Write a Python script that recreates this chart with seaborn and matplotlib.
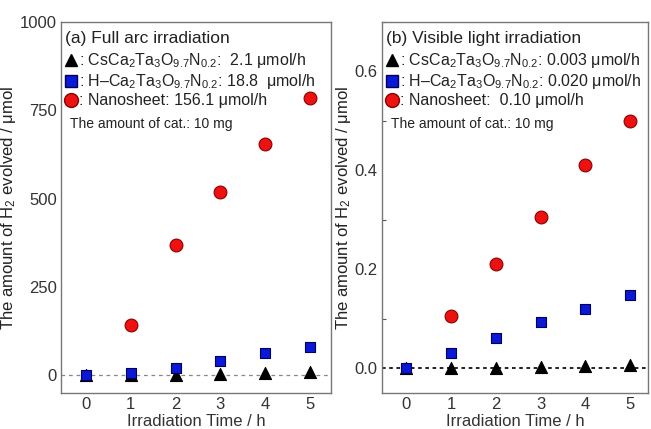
import numpy as np
import pandas as pd
import matplotlib
matplotlib.use("Agg")
import matplotlib.pyplot as plt
from matplotlib.lines import Line2D
from matplotlib.ticker import MultipleLocator
import seaborn as sns

# irradiation time (h)
time_h = [0, 1, 2, 3, 4, 5]

# (a) full arc irradiation, H2 evolved (umol)
full_cs = [0, 2, 2, 5, 8, 9]
full_h = [0, 8, 22, 42, 63, 80]
full_nano = [np.nan, 142, 370, 520, 655, 785]

# (b) visible light irradiation, H2 evolved (umol)
vis_cs = [0, 0.0, 0.001, 0.003, 0.005, 0.007]
vis_h = [0, 0.030, 0.062, 0.093, 0.120, 0.148]
vis_nano = [np.nan, 0.105, 0.210, 0.305, 0.410, 0.500]

samples = ["Nanosheet", "CsCa2Ta3O9.7N0.2", "H-Ca2Ta3O9.7N0.2"]
labels_a = [": CsCa$_2$Ta$_3$O$_{9.7}$N$_{0.2}$:  2.1 \u03bcmol/h",
            ": H\u2013Ca$_2$Ta$_3$O$_{9.7}$N$_{0.2}$: 18.8  \u03bcmol/h",
            ": Nanosheet: 156.1 \u03bcmol/h"]
labels_b = [": CsCa$_2$Ta$_3$O$_{9.7}$N$_{0.2}$: 0.003 \u03bcmol/h",
            ": H\u2013Ca$_2$Ta$_3$O$_{9.7}$N$_{0.2}$: 0.020 \u03bcmol/h",
            ": Nanosheet:  0.10 \u03bcmol/h"]

colors = {"Nanosheet": "#ee1111", "CsCa2Ta3O9.7N0.2": "#000000", "H-Ca2Ta3O9.7N0.2": "#0a18d8"}
edges = {"Nanosheet": "#8a0000", "CsCa2Ta3O9.7N0.2": "#000000", "H-Ca2Ta3O9.7N0.2": "#00005a"}
markers = {"Nanosheet": "o", "CsCa2Ta3O9.7N0.2": "^", "H-Ca2Ta3O9.7N0.2": "s"}
sizes = {"Nanosheet": 85, "CsCa2Ta3O9.7N0.2": 75, "H-Ca2Ta3O9.7N0.2": 62}


def make_df(cs, h, nano):
    df = pd.DataFrame({"time": time_h * 3,
                       "value": list(nano) + list(cs) + list(h),
                       "sample": [samples[0]] * 6 + [samples[1]] * 6 + [samples[2]] * 6})
    return df


sns.set_style("white")
plt.rcParams["font.family"] = ["Liberation Sans", "DejaVu Sans"]
plt.rcParams["mathtext.fontset"] = "custom"
plt.rcParams["mathtext.rm"] = "Liberation Sans"
plt.rcParams["mathtext.it"] = "Liberation Sans"

fig = plt.figure(figsize=(6.51, 4.29), dpi=100)
axA = fig.add_axes([0.0937, 0.0839, 0.4147, 0.8648])
axB = fig.add_axes([0.5868, 0.0839, 0.4086, 0.8648])

panels = [
    (axA, make_df(full_cs, full_h, full_nano), (-0.56, 5.47), (-50, 1000), 250, None,
     "(a) Full arc irradiation", labels_a, "#888888", 0.9, (0, (3, 3))),
    (axB, make_df(vis_cs, vis_h, vis_nano), (-0.54, 5.4), (-0.05, 0.70), 0.2, 0.1,
     "(b) Visible light irradiation", labels_b, "#111111", 1.3, (0, (2, 2))),
]

for ax, df, xl, yl, major, minor, title, labels, zc, zlw, zls in panels:
    ax.axhline(0, color=zc, lw=zlw, ls=zls, zorder=1)
    for s in samples:
        sub = df[df["sample"] == s]
        sns.scatterplot(data=sub, x="time", y="value", ax=ax, marker=markers[s],
                        color=colors[s], edgecolor=edges[s], linewidth=0.8,
                        s=sizes[s], legend=False, zorder=3)
    ax.set_xlim(*xl)
    ax.set_ylim(*yl)
    ax.set_xticks(time_h)
    ax.yaxis.set_major_locator(MultipleLocator(major))
    if minor:
        ax.yaxis.set_minor_locator(MultipleLocator(minor))
    ax.tick_params(axis="x", direction="in", length=5, width=0.8, color="#555555",
                   labelsize=12, labelcolor="#333333", pad=3)
    ax.tick_params(axis="y", which="major", direction="out", length=2, width=0.8,
                   color="#555555", labelsize=12, labelcolor="#333333", pad=1)
    ax.tick_params(axis="y", which="minor", direction="in", length=3, width=0.8,
                   color="#555555", left=True)
    for sp in ax.spines.values():
        sp.set_color("#777777")
        sp.set_linewidth(1.0)
    ax.set_xlabel("Irradiation Time / h", fontsize=12, color="#333333", labelpad=1)
    ax.set_ylabel("The amount of H$_2$ evolved / \u03bcmol", fontsize=12, color="#222222", labelpad=1)

    ax.text(0.015, 0.975, title, transform=ax.transAxes, ha="left", va="top",
            fontsize=12.5, color="#222222")
    handles = [Line2D([], [], ls="none", marker=markers[s], markersize=9 if s != "Nanosheet" else 10,
                      markerfacecolor=colors[s], markeredgecolor=edges[s])
               for s in [samples[1], samples[2], samples[0]]]
    leg = ax.legend(handles, labels, loc="upper left", bbox_to_anchor=(0.01, 0.925),
                    frameon=False, fontsize=11.5, handlelength=0.7, handletextpad=0.15,
                    labelspacing=0.12, borderpad=0.1, borderaxespad=0.0)
    for t in leg.get_texts():
        t.set_color("#222222")
    ax.text(0.035, 0.725, "The amount of cat.: 10 mg", transform=ax.transAxes,
            ha="left", va="center", fontsize=10, color="#222222")

fig.savefig("out.png", dpi=100)
